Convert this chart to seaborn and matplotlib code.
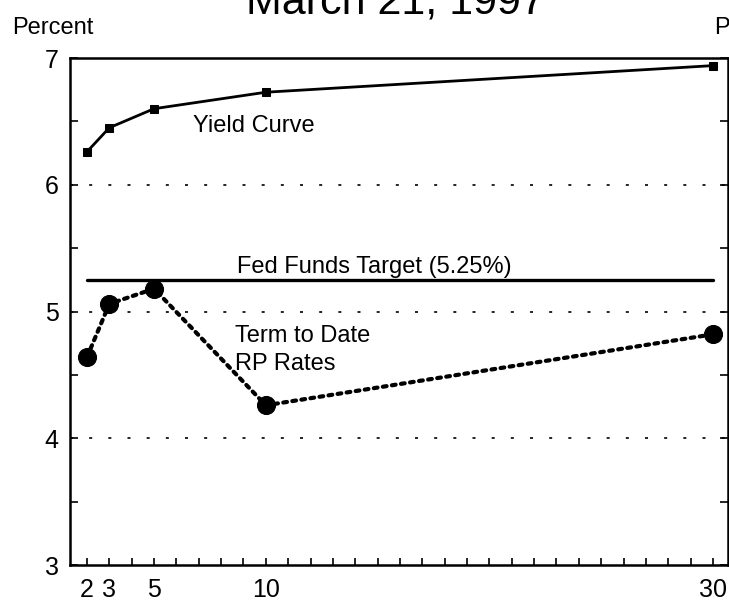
import numpy as np
import pandas as pd
import matplotlib
matplotlib.use("Agg")
import matplotlib.pyplot as plt
import seaborn as sns

# Data (maturity in days, rate in percent)
maturity = [2, 3, 5, 10, 30]
yield_curve = [6.26, 6.45, 6.60, 6.73, 6.94]
rp_rates = [4.64, 5.06, 5.18, 4.26, 4.82]
fed_funds_target = 5.25
x_labels = [2, 3, 5, 10, 30]
y_labels = [3, 4, 5, 6, 7]

df = pd.DataFrame({"maturity": maturity, "yield": yield_curve, "rp": rp_rates})

sns.set_style("ticks")
plt.rcParams['font.family'] = ['Liberation Sans', 'DejaVu Sans']
plt.rcParams['text.color'] = 'black'
plt.rcParams['xtick.color'] = 'black'
plt.rcParams['ytick.color'] = 'black'

fig = plt.figure(figsize=(7.29, 6.03), dpi=100)
ax = fig.add_axes([0.096, 0.063, 0.9026, 0.8408])

# grid lines at whole percents
for y in [4, 5, 6]:
    ax.axhline(y, color='black', lw=1.2, dashes=(1.8, 9.7), zorder=1)

# fed funds target
ax.plot([maturity[0], maturity[-1]], [fed_funds_target, fed_funds_target],
        color='black', lw=2.4, zorder=2)

# yield curve
sns.lineplot(data=df, x="maturity", y="yield", ax=ax, color='black', lw=2.0,
             marker='s', markersize=6, markeredgecolor='black',
             markerfacecolor='black', zorder=3)

# term RP rates
sns.lineplot(data=df, x="maturity", y="rp", ax=ax, color='black', lw=3,
             linestyle=(0, (0.9, 1.3)), dash_capstyle='round',
             marker='o', markersize=13, markeredgecolor='black',
             markerfacecolor='black', zorder=3)

ax.set_xlim(1.24, 30.67)
ax.set_ylim(3, 7)
ax.set_xlabel("")
ax.set_ylabel("")

ax.set_xticks(x_labels)
ax.set_xticklabels([str(v) for v in x_labels])
ax.set_xticks(np.arange(2, 31), minor=True)
ax.set_yticks(y_labels)
ax.set_yticklabels([str(v) for v in y_labels])
ax.set_yticks(np.arange(3.5, 7, 1.0), minor=True)

ax.tick_params(axis='both', which='both', direction='in', labelsize=18,
               labelcolor='black', width=1.2)
ax.tick_params(axis='x', which='both', length=5, pad=9, top=False)
ax.tick_params(axis='y', which='both', length=6, pad=8, right=True)

for side in ['left', 'right', 'top', 'bottom']:
    ax.spines[side].set_visible(True)
    ax.spines[side].set_linewidth(1.8)
    ax.spines[side].set_color('black')

# labels inside the plot
ax.text(6.74, 6.42, "Yield Curve", fontsize=17, va='baseline')
ax.text(8.71, 5.30, "Fed Funds Target (5.25%)", fontsize=17, va='baseline')
ax.text(8.62, 4.76, "Term to Date", fontsize=17, va='baseline')
ax.text(8.62, 4.54, "RP Rates", fontsize=17, va='baseline')

fig.text(0.542, 0.977, "March 21, 1997", fontsize=31, ha='center', va='baseline')
fig.text(0.016, 0.944, "Percent", fontsize=17, va='baseline')
fig.text(0.979, 0.944, "Percent", fontsize=17, va='baseline')

fig.savefig("out.png", dpi=100)
